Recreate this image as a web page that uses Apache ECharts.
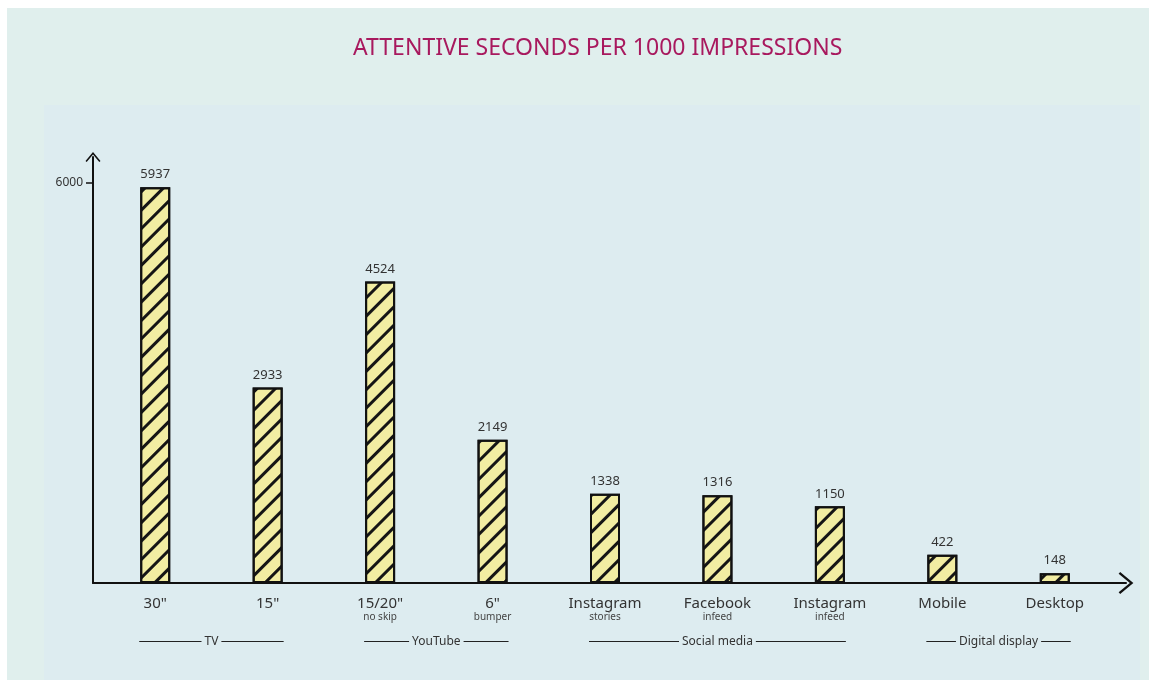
<!DOCTYPE html>
<html><head><meta charset="utf-8">
<script src="https://cdn.jsdelivr.net/npm/echarts@6/dist/echarts.min.js"></script>
<style>
html,body{margin:0;padding:0;background:#fff;overflow:hidden;}
#outer{position:absolute;left:7px;top:8px;width:1142px;height:672px;background:#e0efed;}
#inner{position:absolute;left:44px;top:105px;width:1096px;height:575px;background:#ddecf0;}
#chart{position:absolute;left:0;top:0;width:1149px;height:680px;}
</style></head>
<body><div id="outer"></div><div id="inner"></div><div id="chart"></div>
<script>
const titleText = 'ATTENTIVE SECONDS PER 1000 IMPRESSIONS';
const categories = ['30"', '15"', '15/20"', '6"', 'Instagram', 'Facebook', 'Instagram', 'Mobile', 'Desktop'];
const subLabels = ['', '', 'no skip', 'bumper', 'stories', 'infeed', 'infeed', '', ''];
const values = [5937, 2933, 4524, 2149, 1338, 1316, 1150, 422, 148];
const groupNames = ['TV', 'YouTube', 'Social media', 'Digital display'];
const groupStart = [0, 2, 4, 7];
const groupEnd = [1, 3, 6, 8];
const yTicks = [6000];
const yMax = 6390;

const FONT = 'Noto Sans';
const catIds = categories.map((c, i) => String(i));

const measureCtx = document.createElement('canvas').getContext('2d');
function textW(t, size) { measureCtx.font = size + 'px "' + FONT + '"'; return measureCtx.measureText(t).width; }

const arrowPath = 'path://M0,0 L10,12 L8.4,13.4 L0,3.2 L-8.4,13.4 L-10,12 Z';
const chart = echarts.init(document.getElementById('chart'), null, {renderer: 'canvas'});
const option = {
  backgroundColor: 'transparent',
  animation: false,
  title: {
    text: titleText, left: 348, top: 32,
    textStyle: {color: '#a8195e', fontSize: 23, fontWeight: 'normal', fontFamily: FONT}
  },
  grid: [
    {left: 99, right: 38, top: 157, bottom: 97},
    {left: 93, right: 23, top: 157, bottom: 97}
  ],
  xAxis: [
    {
      type: 'category', gridIndex: 0, data: catIds,
      axisLine: {show: false}, axisTick: {show: false},
      axisLabel: {
        interval: 0, margin: 12, color: '#333', fontFamily: FONT,
        formatter: (v, i) => subLabels[i] ? '{a|' + categories[i] + '}\n{b|' + subLabels[i] + '}' : '{a|' + categories[i] + '}',
        rich: {
          a: {fontSize: 15, color: '#333', fontFamily: FONT, lineHeight: 17},
          b: {fontSize: 10, color: '#444', fontFamily: FONT, lineHeight: 11}
        }
      }
    },
    {
      type: 'value', gridIndex: 1, min: 0, max: 1,
      axisLine: {show: true, lineStyle: {color: '#111', width: 2},
        symbol: ['none', arrowPath], symbolSize: [22, 26]},
      axisTick: {show: false}, axisLabel: {show: false}, splitLine: {show: false}
    }
  ],
  yAxis: [
    {type: 'value', gridIndex: 0, min: 0, max: yMax, show: false, splitLine: {show: false}},
    {
      type: 'value', gridIndex: 1, min: 0, max: yMax,
      axisLine: {show: true, lineStyle: {color: '#111', width: 2},
        symbol: ['none', arrowPath], symbolSize: [15, 15]},
      axisTick: {show: true, length: 7, lineStyle: {color: '#111', width: 1.5}, customValues: yTicks},
      axisLabel: {customValues: yTicks, color: '#333', fontSize: 12, fontFamily: FONT, margin: 10,
        formatter: v => String(v)},
      splitLine: {show: false}
    }
  ],
  series: [
    {
      type: 'bar', xAxisIndex: 0, yAxisIndex: 0, data: values, barWidth: 30,
      itemStyle: {
        color: '#f2eda2', borderColor: '#111', borderWidth: 2,
        decal: {symbol: 'rect', symbolSize: 1, dashArrayX: [1, 0], dashArrayY: [2.5, 10], rotation: -Math.PI / 4, color: '#151515'}
      },
      label: {show: true, position: 'top', distance: 6, color: '#333', fontSize: 13, fontFamily: FONT},
      emphasis: {disabled: true}
    },
    {
      type: 'custom', xAxisIndex: 0, yAxisIndex: 0, silent: true,
      data: groupNames.map((n, i) => [groupStart[i], groupEnd[i], 0]),
      encode: {x: [0, 1], y: 2},
      renderItem: (params, api) => {
        const i = params.dataIndex;
        const p0 = api.coord([api.value(0), 0]);
        const p1 = api.coord([api.value(1), 0]);
        const y = Math.round(p0[1] + 58) + 0.5;
        const x0 = p0[0] - 16, x1 = p1[0] + 16;
        const cx = (x0 + x1) / 2;
        const tw = textW(groupNames[i], 12);
        const ls = {stroke: '#222', lineWidth: 1};
        return {type: 'group', children: [
          {type: 'line', shape: {x1: x0, y1: y, x2: cx - tw / 2 - 3, y2: y}, style: ls},
          {type: 'line', shape: {x1: cx + tw / 2 + 3, y1: y, x2: x1, y2: y}, style: ls},
          {type: 'text', x: cx, y: y, style: {text: groupNames[i], fill: '#333', font: '12px "' + FONT + '"', align: 'center', verticalAlign: 'middle'}}
        ]};
      }
    }
  ]
};
chart.setOption(option);
</script>
</body></html>
